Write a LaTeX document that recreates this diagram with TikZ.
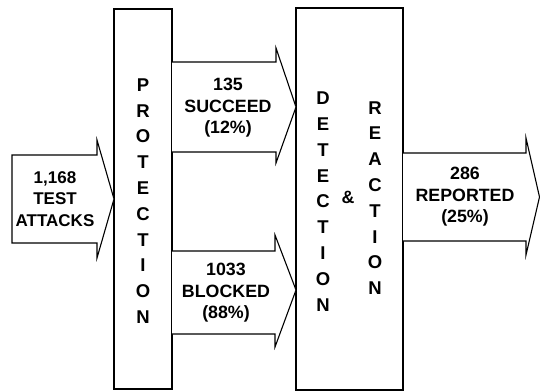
\documentclass[tikz,border=0pt]{standalone}
\usepackage{fontspec}
\setmainfont{Liberation Sans}
\begin{document}
\begin{tikzpicture}[x=1pt,y=-1pt,line width=1.1pt,line join=miter,
  box/.style={draw,inner sep=0pt,outer sep=0pt},
  blockarrow/.style={draw,fill=white},
  lbl/.style={align=center,inner sep=0pt,font=\bfseries\fontsize{17.8}{21.5}\selectfont},
  vert/.style={align=center,inner sep=0pt,font=\bfseries\fontsize{18.5}{25.8}\selectfont}]
\useasboundingbox (0,0) rectangle (540,391);
% boxes
\node[box,minimum width=58pt,minimum height=380pt] (prot) at (143,199) {};
\node[box,minimum width=107pt,minimum height=382pt] (det) at (349.5,199) {};
% block arrows
\draw[blockarrow] (12,155) -- (97,155) -- (97,140) -- (prot.west) -- (97,258) -- (97,243) -- (12,243) -- cycle;
\draw[blockarrow] (172,62) -- (276,62) -- (276,48) -- (296,107) -- (276,163) -- (276,152) -- (172,152);
\draw[blockarrow] (172,251) -- (275,251) -- (275,235) -- (296,290) -- (275,347) -- (275,334) -- (172,334);
\draw[blockarrow] (403,153) -- (526,153) -- (526,138) -- (539.5,197) -- (526,255) -- (526,241) -- (403,241);
% texts
\node[lbl,font=\bfseries\fontsize{17}{21.5}\selectfont] (in) at (55,199) {1,168\\TEST\\ATTACKS};
\node[lbl] (succ) at (228,108) {135\\SUCCEED\\(12\%)};
\node[lbl] (blk) at (226,293) {1033\\BLOCKED\\(88\%)};
\node[lbl] (rep) at (465,197) {286\\REPORTED\\(25\%)};
\node[vert] (ptxt) at (143,201) {P\\R\\O\\T\\E\\C\\T\\I\\O\\N};
\node[vert] (dtxt) at (323,201.5) {D\\E\\T\\E\\C\\T\\I\\O\\N};
\node[vert] (rtxt) at (375,198) {R\\E\\A\\C\\T\\I\\O\\N};
\node[lbl] (amp) at (348,197) {\&};
\end{tikzpicture}
\end{document}
